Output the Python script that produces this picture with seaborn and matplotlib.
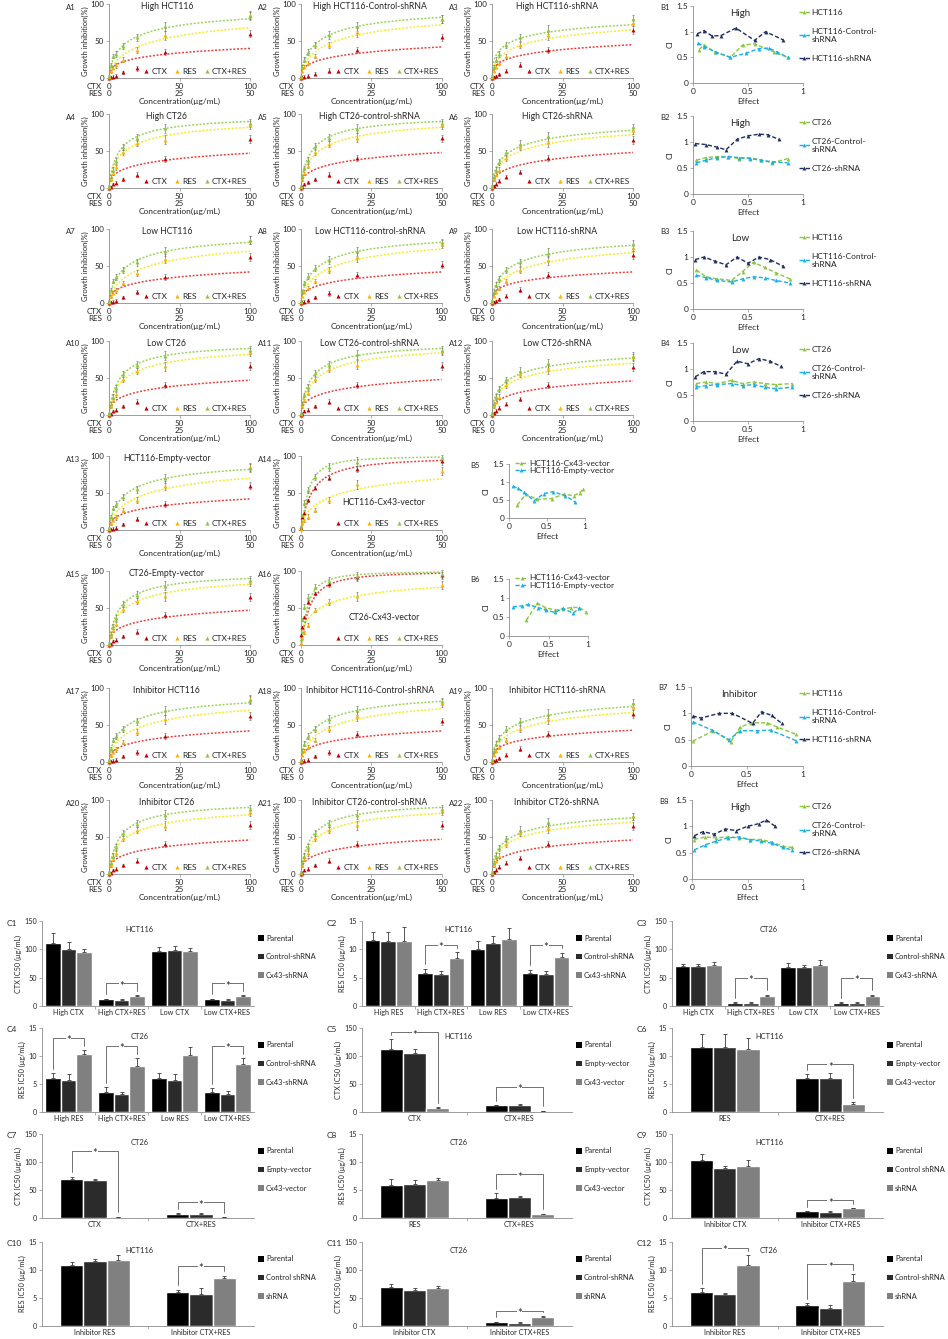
import numpy as np
import pandas as pd
import matplotlib
matplotlib.use("Agg")
import matplotlib.pyplot as plt
import seaborn as sns
from matplotlib.lines import Line2D
from matplotlib.patches import Patch
from matplotlib.ticker import FuncFormatter

# ======================= DATA =======================
# ---- A panels: growth inhibition (%) vs concentration ----
CONC_CTX = [0, 1.25, 2.5, 5, 10, 20, 40, 100]          # CTX ug/mL (RES is half)
A_XTICKS = [0, 50, 100]
A_XTICK_LABELS = ["0\n0", "50\n25", "100\n50"]
A_SERIES = ["CTX", "RES", "CTX+RES"]
ERR_CTX = [0.5, 1, 1.5, 2, 2, 3, 4, 5]
ERR_RES = [1, 2, 2, 3, 3, 4, 6, 5]
ERR_COMB = [1, 2, 3, 4, 4, 5, 6, 5]

A1_title = "High HCT116"
A1_ctx = [0, 1, 2, 3, 8, 13, 35, 60]
A1_res = [2, 9, 14, 17, 25, 38, 58, 85]
A1_comb = [3, 18, 30, 33, 43, 55, 70, 84]
A1_fit = [[0.22, 0.40], [0.31, 0.68], [0.44, 0.80]]   # fitted fa at CTX=10 and CTX=100

A2_title = "High HCT116-Control-shRNA"
A2_ctx = [0, 1, 2, 3, 6, 10, 38, 55]
A2_res = [2, 10, 15, 20, 30, 45, 62, 80]
A2_comb = [3, 15, 25, 35, 45, 58, 70, 80]
A2_fit = [[0.22, 0.42], [0.35, 0.72], [0.45, 0.82]]

A3_title = "High HCT116-shRNA"
A3_ctx = [0, 2, 3, 5, 10, 18, 38, 65]
A3_res = [2, 10, 15, 20, 30, 45, 58, 75]
A3_comb = [3, 15, 25, 32, 45, 55, 65, 80]
A3_fit = [[0.25, 0.45], [0.35, 0.65], [0.45, 0.72]]

A4_title = "High CT26"
A4_ctx = [0, 2, 5, 7, 12, 18, 39, 66]
A4_res = [2, 12, 20, 28, 48, 61, 65, 85]
A4_comb = [3, 15, 25, 36, 55, 68, 81, 88]
A4_fit = [[0.25, 0.47], [0.48, 0.82], [0.56, 0.90]]

A5_title = "High CT26-control-shRNA"
A5_ctx = [0, 2, 5, 8, 12, 18, 40, 67]
A5_res = [2, 12, 20, 30, 48, 60, 68, 85]
A5_comb = [3, 16, 27, 38, 57, 68, 80, 88]
A5_fit = [[0.25, 0.48], [0.45, 0.82], [0.55, 0.90]]

A6_title = "High CT26-shRNA"
A6_ctx = [0, 3, 6, 10, 15, 22, 40, 65]
A6_res = [2, 12, 18, 25, 40, 55, 62, 78]
A6_comb = [3, 15, 25, 35, 48, 60, 70, 82]
A6_fit = [[0.25, 0.48], [0.40, 0.72], [0.45, 0.78]]

A7_title = "Low HCT116"
A7_ctx = [0, 1, 2, 3, 8, 15, 35, 62]
A7_res = [2, 9, 14, 17, 27, 40, 60, 85]
A7_comb = [3, 18, 30, 35, 45, 55, 70, 85]
A7_fit = [[0.22, 0.42], [0.33, 0.70], [0.45, 0.82]]

A8_title = "Low HCT116-control-shRNA"
A8_ctx = [0, 1, 2, 4, 8, 13, 38, 52]
A8_res = [2, 10, 15, 20, 30, 45, 62, 80]
A8_comb = [3, 16, 27, 36, 47, 58, 70, 82]
A8_fit = [[0.22, 0.42], [0.35, 0.73], [0.45, 0.82]]

A9_title = "Low HCT116-shRNA"
A9_ctx = [0, 2, 3, 5, 10, 18, 38, 65]
A9_res = [2, 10, 15, 20, 30, 45, 58, 75]
A9_comb = [3, 15, 25, 32, 45, 55, 68, 80]
A9_fit = [[0.24, 0.42], [0.35, 0.68], [0.44, 0.78]]

A10_title = "Low CT26"
A10_ctx = [0, 2, 5, 7, 12, 18, 40, 66]
A10_res = [2, 12, 20, 28, 48, 60, 66, 85]
A10_comb = [3, 15, 25, 36, 55, 68, 80, 88]
A10_fit = [[0.25, 0.47], [0.47, 0.82], [0.55, 0.90]]

A11_title = "Low CT26-control-shRNA"
A11_ctx = [0, 2, 5, 7, 12, 18, 40, 66]
A11_res = [2, 12, 20, 30, 48, 62, 68, 86]
A11_comb = [3, 16, 27, 38, 57, 68, 82, 88]
A11_fit = [[0.25, 0.48], [0.47, 0.84], [0.55, 0.90]]

A12_title = "Low CT26-shRNA"
A12_ctx = [0, 3, 6, 10, 15, 22, 40, 65]
A12_res = [2, 12, 18, 25, 40, 55, 62, 78]
A12_comb = [3, 15, 25, 35, 48, 60, 70, 80]
A12_fit = [[0.25, 0.46], [0.40, 0.70], [0.45, 0.77]]

A13_title = "HCT116-Empty-vector"
A13_ctx = [0, 1, 2, 3, 8, 15, 35, 60]
A13_res = [2, 9, 14, 17, 27, 40, 60, 85]
A13_comb = [3, 18, 30, 35, 45, 55, 70, 84]
A13_fit = [[0.22, 0.42], [0.33, 0.70], [0.45, 0.82]]

A14_title = "HCT116-Cx43-vector"
A14_ctx = [3, 18, 23, 40, 57, 70, 83, 93]
A14_res = [2, 10, 13, 18, 27, 40, 62, 80]
A14_comb = [5, 20, 37, 54, 72, 85, 92, 97]
A14_fit = [[0.57, 0.94], [0.33, 0.69], [0.72, 0.985]]

A15_title = "CT26-Empty-vector"
A15_ctx = [0, 2, 5, 7, 12, 18, 40, 65]
A15_res = [2, 12, 20, 28, 48, 60, 66, 85]
A15_comb = [3, 15, 25, 36, 55, 68, 80, 88]
A15_fit = [[0.25, 0.47], [0.47, 0.82], [0.55, 0.90]]

A16_title = "CT26-Cx43-vector"
A16_ctx = [14, 24, 38, 58, 70, 82, 92, 94]
A16_res = [3, 10, 17, 27, 47, 58, 66, 81]
A16_comb = [8, 35, 52, 65, 79, 87, 93, 96]
A16_fit = [[0.65, 0.97], [0.45, 0.78], [0.74, 0.985]]

A17_title = "Inhibitor HCT116"
A17_ctx = [0, 1, 2, 3, 8, 13, 35, 62]
A17_res = [2, 9, 14, 17, 27, 40, 58, 85]
A17_comb = [3, 18, 30, 35, 45, 55, 70, 84]
A17_fit = [[0.22, 0.42], [0.35, 0.70], [0.45, 0.80]]

A18_title = "Inhibitor HCT116-Control-shRNA"
A18_ctx = [0, 1, 2, 3, 8, 13, 38, 55]
A18_res = [2, 10, 15, 20, 30, 45, 62, 80]
A18_comb = [3, 15, 25, 35, 45, 58, 70, 82]
A18_fit = [[0.22, 0.42], [0.35, 0.72], [0.45, 0.82]]

A19_title = "Inhibitor HCT116-shRNA"
A19_ctx = [0, 2, 3, 5, 10, 18, 38, 65]
A19_res = [2, 10, 15, 20, 30, 45, 58, 75]
A19_comb = [3, 15, 25, 32, 45, 55, 65, 80]
A19_fit = [[0.24, 0.43], [0.35, 0.67], [0.42, 0.75]]

A20_title = "Inhibitor CT26"
A20_ctx = [0, 2, 5, 7, 12, 18, 40, 66]
A20_res = [2, 12, 20, 28, 48, 60, 65, 84]
A20_comb = [3, 15, 25, 36, 55, 68, 80, 88]
A20_fit = [[0.25, 0.46], [0.46, 0.80], [0.55, 0.90]]

A21_title = "Inhibitor CT26-control-shRNA"
A21_ctx = [0, 2, 5, 7, 12, 18, 40, 66]
A21_res = [2, 12, 20, 28, 48, 60, 66, 85]
A21_comb = [3, 15, 25, 36, 55, 68, 80, 88]
A21_fit = [[0.25, 0.47], [0.47, 0.82], [0.55, 0.90]]

A22_title = "Inhibitor CT26-shRNA"
A22_ctx = [0, 3, 6, 10, 15, 22, 40, 65]
A22_res = [2, 12, 18, 25, 40, 55, 62, 78]
A22_comb = [3, 15, 25, 35, 48, 60, 70, 78]
A22_fit = [[0.25, 0.46], [0.40, 0.70], [0.45, 0.76]]

# ---- B panels: combination index (CI) vs effect ----
B_HCT_LABELS = ["HCT116", "HCT116-Control-\nshRNA", "HCT116-shRNA"]
B_CT_LABELS = ["CT26", "CT26-Control-\nshRNA", "CT26-shRNA"]
B_VEC_LABELS = ["HCT116-Cx43-vector", "HCT116-Empty-vector"]

B1_g_x = [0.055, 0.1, 0.2, 0.34, 0.45, 0.56, 0.74, 0.86]
B1_g_y = [0.65, 0.74, 0.6, 0.5, 0.74, 0.76, 0.6, 0.5]
B1_b_x = [0.045, 0.1, 0.21, 0.34, 0.48, 0.6, 0.69, 0.76, 0.86]
B1_b_y = [0.78, 0.71, 0.6, 0.5, 0.58, 0.67, 0.68, 0.61, 0.5]
B1_n_x = [0.04, 0.1, 0.17, 0.25, 0.39, 0.56, 0.66, 0.82]
B1_n_y = [0.96, 1.02, 0.92, 0.92, 1.07, 0.83, 1.0, 0.84]

B2_g_x = [0.03, 0.12, 0.22, 0.32, 0.42, 0.52, 0.62, 0.72, 0.86]
B2_g_y = [0.65, 0.7, 0.72, 0.72, 0.68, 0.7, 0.65, 0.6, 0.68]
B2_b_x = [0.03, 0.12, 0.22, 0.32, 0.42, 0.52, 0.62, 0.72, 0.86]
B2_b_y = [0.6, 0.65, 0.7, 0.72, 0.7, 0.68, 0.65, 0.62, 0.6]
B2_n_x = [0.02, 0.12, 0.22, 0.3, 0.4, 0.5, 0.6, 0.68, 0.78]
B2_n_y = [0.97, 0.95, 0.9, 0.85, 1.05, 1.12, 1.15, 1.14, 1.05]

B3_g_x = [0.03, 0.12, 0.22, 0.35, 0.45, 0.55, 0.65, 0.75, 0.88]
B3_g_y = [0.75, 0.62, 0.58, 0.55, 0.72, 0.9, 0.8, 0.7, 0.58]
B3_b_x = [0.03, 0.12, 0.22, 0.35, 0.45, 0.55, 0.65, 0.75, 0.88]
B3_b_y = [0.65, 0.6, 0.55, 0.52, 0.58, 0.62, 0.6, 0.55, 0.5]
B3_n_x = [0.02, 0.1, 0.2, 0.3, 0.4, 0.5, 0.6, 0.7, 0.82]
B3_n_y = [0.95, 1.0, 0.92, 0.85, 1.0, 0.88, 1.0, 0.95, 0.82]

B4_g_x = [0.03, 0.12, 0.22, 0.35, 0.45, 0.55, 0.65, 0.75, 0.9]
B4_g_y = [0.72, 0.75, 0.72, 0.78, 0.72, 0.75, 0.72, 0.7, 0.72]
B4_b_x = [0.03, 0.12, 0.22, 0.35, 0.45, 0.55, 0.65, 0.75, 0.9]
B4_b_y = [0.65, 0.68, 0.7, 0.72, 0.68, 0.7, 0.65, 0.62, 0.65]
B4_n_x = [0.02, 0.1, 0.2, 0.3, 0.4, 0.5, 0.6, 0.7, 0.8]
B4_n_y = [0.85, 0.95, 0.95, 0.9, 1.15, 1.1, 1.2, 1.15, 1.05]

B5_g_x = [0.11, 0.22, 0.37, 0.56, 0.72, 0.85, 0.93, 0.98]
B5_g_y = [0.36, 0.66, 0.52, 0.54, 0.66, 0.62, 0.70, 0.80]
B5_b_x = [0.05, 0.12, 0.2, 0.33, 0.46, 0.58, 0.74, 0.87]
B5_b_y = [0.89, 0.82, 0.71, 0.48, 0.68, 0.73, 0.62, 0.45]

B6_g_x = [0.22, 0.36, 0.46, 0.58, 0.68, 0.79, 0.89, 0.97]
B6_g_y = [0.42, 0.86, 0.75, 0.68, 0.71, 0.75, 0.75, 0.64]
B6_b_x = [0.05, 0.16, 0.24, 0.37, 0.47, 0.58, 0.68, 0.81, 0.89]
B6_b_y = [0.77, 0.79, 0.83, 0.75, 0.68, 0.62, 0.73, 0.6, 0.73]

B7_g_x = [0.015, 0.2, 0.355, 0.44, 0.54, 0.68, 0.77, 0.94]
B7_g_y = [0.47, 0.67, 0.46, 0.74, 0.82, 0.82, 0.74, 0.6]
B7_b_x = [0.015, 0.19, 0.34, 0.44, 0.59, 0.71, 0.94]
B7_b_y = [0.84, 0.68, 0.5, 0.67, 0.67, 0.68, 0.48]
B7_n_x = [0.015, 0.09, 0.25, 0.37, 0.55, 0.63, 0.72, 0.81]
B7_n_y = [0.95, 0.91, 1.0, 1.0, 0.81, 1.03, 0.96, 0.81]

B8_g_x = [0.02, 0.12, 0.22, 0.32, 0.42, 0.52, 0.62, 0.72, 0.82, 0.9]
B8_g_y = [0.75, 0.8, 0.78, 0.8, 0.78, 0.75, 0.75, 0.7, 0.62, 0.6]
B8_b_x = [0.02, 0.12, 0.22, 0.32, 0.42, 0.52, 0.62, 0.72, 0.82, 0.9]
B8_b_y = [0.55, 0.65, 0.72, 0.78, 0.8, 0.75, 0.72, 0.68, 0.6, 0.55]
B8_n_x = [0.02, 0.1, 0.2, 0.3, 0.4, 0.5, 0.6, 0.67, 0.75]
B8_n_y = [0.82, 0.9, 0.85, 0.95, 0.92, 1.0, 1.05, 1.12, 1.0]

# ---- C panels: IC50 bars (series x groups) ----
LEG_SH = ["Parental", "Control-shRNA", "Cx43-shRNA"]
LEG_VEC = ["Parental", "Empty-vector", "Cx43-vector"]
LEG_INH_H = ["Parental", "Control shRNA", "shRNA"]
LEG_INH_C = ["Parental", "Control-shRNA", "shRNA"]

C1_groups = ["High CTX", "High CTX+RES", "Low CTX", "Low CTX+RES"]
C1_bars = [[112, 12, 97, 12], [101, 11, 98, 11], [96, 17, 97, 17]]
C1_errs = [[17, 1, 8, 1], [12, 1, 8, 1], [5, 2, 6, 2]]
C1_stars = [[1, 40], [3, 40]]

C2_groups = ["High RES", "High CTX+RES", "Low RES", "Low CTX+RES"]
C2_bars = [[11.6, 5.9, 10.0, 5.9], [11.4, 5.6, 11.1, 5.7], [11.4, 8.5, 11.8, 8.6]]
C2_errs = [[1.5, 0.7, 1.5, 0.5], [1.6, 0.5, 1.3, 0.5], [2.5, 1.0, 2.0, 0.8]]
C2_stars = [[1, 10.8], [3, 10.8]]

C3_groups = ["High CTX", "High CTX+RES", "Low CTX", "Low CTX+RES"]
C3_bars = [[70, 6, 68, 6], [70, 6, 68, 6], [73, 17, 73, 17]]
C3_errs = [[5, 1, 8, 1], [5, 1, 5, 1], [5, 3, 8, 3]]
C3_stars = [[1, 50], [3, 50]]

C4_groups = ["High RES", "High CTX+RES", "Low RES", "Low CTX+RES"]
C4_bars = [[6.0, 3.6, 6.1, 3.6], [5.8, 3.2, 5.7, 3.2], [10.3, 8.2, 10.1, 8.5]]
C4_errs = [[0.9, 0.9, 0.9, 0.7], [0.9, 0.3, 1.0, 0.6], [0.7, 1.4, 1.5, 1.1]]
C4_stars = [[0, 13.3], [1, 11.8], [3, 11.8]]

C5_groups = ["CTX", "CTX+RES"]
C5_bars = [[112, 12], [106, 12], [7, 2]]
C5_errs = [[18, 1], [7, 1.5], [2, 0.5]]
C5_stars = [[0, 142], [1, 45]]

C6_groups = ["RES", "CTX+RES"]
C6_bars = [[11.6, 6.0], [11.6, 6.1], [11.3, 1.4]]
C6_errs = [[2.3, 0.8], [2.3, 0.8], [2.0, 0.3]]
C6_stars = [[1, 8.5]]

C7_groups = ["CTX", "CTX+RES"]
C7_bars = [[69, 7], [67, 7], [2, 1.5]]
C7_errs = [[5, 1.5], [3, 1.5], [0.5, 0.3]]
C7_stars = [[0, 120], [1, 28]]

C8_groups = ["RES", "CTX+RES"]
C8_bars = [[5.9, 3.6], [6.1, 3.8], [6.7, 0.7]]
C8_errs = [[1.0, 0.9], [0.7, 0.2], [0.5, 0.1]]
C8_stars = [[1, 7.8]]

C9_groups = ["Inhibitor CTX", "Inhibitor CTX+RES"]
C9_bars = [[103, 12], [89, 11], [92, 17]]
C9_errs = [[12, 1], [4, 2], [12, 1]]
C9_stars = [[1, 32]]

C10_groups = ["Inhibitor RES", "Inhibitor CTX+RES"]
C10_bars = [[10.9, 6.1], [11.6, 5.8], [11.7, 8.6]]
C10_errs = [[0.6, 0.4], [0.4, 0.9], [1.0, 0.4]]
C10_stars = [[1, 10.8]]

C11_groups = ["Inhibitor CTX", "Inhibitor CTX+RES"]
C11_bars = [[70, 7], [64, 6], [67, 16]]
C11_errs = [[5, 1], [4, 1], [4, 2]]
C11_stars = [[1, 27]]

C12_groups = ["Inhibitor RES", "Inhibitor CTX+RES"]
C12_bars = [[6.1, 3.8], [5.7, 3.2], [10.9, 8.1]]
C12_errs = [[0.7, 0.3], [0.2, 0.6], [1.7, 1.2]]
C12_stars = [[0, 14.0], [1, 11.0]]

# ======================= STYLE =======================
sns.set_theme(style="ticks")
plt.rcParams["font.family"] = ["Lato", "DejaVu Sans"]
plt.rcParams["axes.linewidth"] = 0.6

W, H = 948, 1339
fig = plt.figure(figsize=(W / 100, H / 100), dpi=100)
fig.patch.set_facecolor("white")

GRAY = "#8c8c8c"
C_CTX, C_RES, C_COMB = "#C00000", "#FFB000", "#8CC63F"
F_CTX, F_RES, F_COMB = "#E8413C", "#F5EB2A", "#9BD35A"
B_GREEN, B_BLUE, B_NAVY = "#8CC63F", "#1AAFE6", "#1F2F5F"
BAR_COLORS = ["#000000", "#2b2b2b", "#808080"]


def px_axes(x0, y0, x1, y1):
    return fig.add_axes([x0 / W, 1 - y1 / H, (x1 - x0) / W, (y1 - y0) / H])


def style_spines(ax):
    for s in ["top", "right"]:
        ax.spines[s].set_visible(False)
    for s in ["left", "bottom"]:
        ax.spines[s].set_color(GRAY)
        ax.spines[s].set_linewidth(0.6)


def median_effect_curve(fit):
    (f1, f2) = fit
    L1 = np.log((1 - f1) / f1)
    L2 = np.log((1 - f2) / f2)
    m = (L1 - L2) / np.log(10.0)
    dm = 10.0 * np.exp(L1 / m)
    xs = np.concatenate([np.linspace(0.05, 3, 80), np.linspace(3, 100, 200)])
    return xs, 100.0 / (1.0 + (dm / xs) ** m)


# ======================= A PANELS =======================
A_COLS = [109, 300.7, 492]
A_ROWS = [4, 114, 229, 341, 456, 571, 688, 800]
A_TITLE_X = [0.41, 0.49, 0.46]

A_PANELS = [
    ("A1", A1_title, A1_ctx, A1_res, A1_comb, A1_fit, 0, 0),
    ("A2", A2_title, A2_ctx, A2_res, A2_comb, A2_fit, 0, 1),
    ("A3", A3_title, A3_ctx, A3_res, A3_comb, A3_fit, 0, 2),
    ("A4", A4_title, A4_ctx, A4_res, A4_comb, A4_fit, 1, 0),
    ("A5", A5_title, A5_ctx, A5_res, A5_comb, A5_fit, 1, 1),
    ("A6", A6_title, A6_ctx, A6_res, A6_comb, A6_fit, 1, 2),
    ("A7", A7_title, A7_ctx, A7_res, A7_comb, A7_fit, 2, 0),
    ("A8", A8_title, A8_ctx, A8_res, A8_comb, A8_fit, 2, 1),
    ("A9", A9_title, A9_ctx, A9_res, A9_comb, A9_fit, 2, 2),
    ("A10", A10_title, A10_ctx, A10_res, A10_comb, A10_fit, 3, 0),
    ("A11", A11_title, A11_ctx, A11_res, A11_comb, A11_fit, 3, 1),
    ("A12", A12_title, A12_ctx, A12_res, A12_comb, A12_fit, 3, 2),
    ("A13", A13_title, A13_ctx, A13_res, A13_comb, A13_fit, 4, 0),
    ("A14", A14_title, A14_ctx, A14_res, A14_comb, A14_fit, 4, 1),
    ("A15", A15_title, A15_ctx, A15_res, A15_comb, A15_fit, 5, 0),
    ("A16", A16_title, A16_ctx, A16_res, A16_comb, A16_fit, 5, 1),
    ("A17", A17_title, A17_ctx, A17_res, A17_comb, A17_fit, 6, 0),
    ("A18", A18_title, A18_ctx, A18_res, A18_comb, A18_fit, 6, 1),
    ("A19", A19_title, A19_ctx, A19_res, A19_comb, A19_fit, 6, 2),
    ("A20", A20_title, A20_ctx, A20_res, A20_comb, A20_fit, 7, 0),
    ("A21", A21_title, A21_ctx, A21_res, A21_comb, A21_fit, 7, 1),
    ("A22", A22_title, A22_ctx, A22_res, A22_comb, A22_fit, 7, 2),
]
INNER_TITLE = {"A14", "A16"}

for name, title, ctx, res, comb, fit, r, c in A_PANELS:
    x0, y0 = A_COLS[c], A_ROWS[r]
    ax = px_axes(x0, y0, x0 + 141, y0 + 74)
    for vals, err, col, f, fcol in zip([ctx, res, comb], [ERR_CTX, ERR_RES, ERR_COMB],
                                       [C_CTX, C_RES, C_COMB], fit, [F_CTX, F_RES, F_COMB]):
        xs, ys = median_effect_curve(f)
        sns.lineplot(x=xs, y=ys, color=fcol, linestyle=(0, (1.3, 1.1)), lw=1.1,
                     ax=ax, sort=False, estimator=None)
        ax.errorbar(CONC_CTX, vals, yerr=err, fmt="none", ecolor="#7a7a7a",
                    elinewidth=0.5, capsize=1.0, capthick=0.5, clip_on=False, zorder=2)
        sns.scatterplot(x=CONC_CTX, y=vals, marker="^", color=col, s=8, linewidth=0,
                        ax=ax, clip_on=False, zorder=3)
    ax.set_xlim(0, 100)
    ax.set_ylim(0, 100)
    ax.set_xticks(A_XTICKS)
    ax.set_xticklabels(A_XTICK_LABELS)
    ax.set_yticks([0, 50, 100])
    ax.tick_params(axis="both", length=2, width=0.5, pad=1.5, labelsize=5.8,
                   color=GRAY, direction="out", bottom=True, left=True)
    for lbl in ax.get_xticklabels():
        lbl.set_linespacing(0.95)
    style_spines(ax)
    ax.set_ylabel("Growth inhibition(%)", fontsize=5.5, labelpad=1)
    ax.set_xlabel("Concentration(µg/mL)", fontsize=6, labelpad=1)
    ax.annotate("CTX\nRES", xy=(0, 0), xycoords="axes fraction", xytext=(-5, -3.5),
                textcoords="offset points", ha="right", va="top", fontsize=5.8,
                linespacing=0.95)
    handles = [Line2D([], [], marker="^", ls="none", color=cc, markersize=3, mew=0)
               for cc in (C_CTX, C_RES, C_COMB)]
    ax.legend(handles, A_SERIES, loc="lower right", ncol=3, fontsize=6, frameon=False,
              handlelength=0.6, handletextpad=0.3, columnspacing=0.9,
              borderaxespad=0.15, borderpad=0.2)
    if name in INNER_TITLE:
        ax.text(0.59, 0.37, title, transform=ax.transAxes, ha="center", va="center",
                fontsize=6.2)
    else:
        ax.text(A_TITLE_X[c], 0.965, title, transform=ax.transAxes, ha="center",
                va="center", fontsize=6.2)
    fig.text((x0 - 43) / W, 1 - (y0 + 3) / H, name, fontsize=5.6, ha="left", va="center")

# ======================= B PANELS =======================
B_PANELS = [
    ("B1", "High", [(B1_g_x, B1_g_y), (B1_b_x, B1_b_y), (B1_n_x, B1_n_y)], B_HCT_LABELS, (693, 6, 803, 83)),
    ("B2", "High", [(B2_g_x, B2_g_y), (B2_b_x, B2_b_y), (B2_n_x, B2_n_y)], B_CT_LABELS, (693, 116, 803, 194)),
    ("B3", "Low", [(B3_g_x, B3_g_y), (B3_b_x, B3_b_y), (B3_n_x, B3_n_y)], B_HCT_LABELS, (693, 231, 803, 309)),
    ("B4", "Low", [(B4_g_x, B4_g_y), (B4_b_x, B4_b_y), (B4_n_x, B4_n_y)], B_CT_LABELS, (693, 343, 803, 421)),
    ("B5", None, [(B5_g_x, B5_g_y), (B5_b_x, B5_b_y)], B_VEC_LABELS, (509, 464, 585, 518)),
    ("B6", None, [(B6_g_x, B6_g_y), (B6_b_x, B6_b_y)], B_VEC_LABELS, (509, 579, 588, 636)),
    ("B7", "Inhibitor", [(B7_g_x, B7_g_y), (B7_b_x, B7_b_y), (B7_n_x, B7_n_y)], B_HCT_LABELS, (691, 687, 803, 766)),
    ("B8", "High", [(B8_g_x, B8_g_y), (B8_b_x, B8_b_y), (B8_n_x, B8_n_y)], B_CT_LABELS, (692, 800, 803, 879)),
]
fmt_g = FuncFormatter(lambda v, p: f"{v:g}")
B_DASH = (0, (3.0, 1.6))

for name, title, series, labels, box in B_PANELS:
    x0, y0, x1, y1 = box
    ax = px_axes(x0, y0, x1, y1)
    cols = [B_GREEN, B_BLUE, B_NAVY]
    handles = []
    for (xs, ys), col in zip(series, cols):
        sns.lineplot(x=xs, y=ys, color=col, linestyle=B_DASH, lw=1.0, marker="^",
                     markersize=2.8, mew=0, ax=ax, sort=False, estimator=None)
        handles.append(Line2D([], [], color=col, ls=B_DASH, lw=1.0, marker="^",
                              markersize=2.8, mew=0))
    ax.set_xlim(0, 1)
    ax.set_ylim(0, 1.5)
    ax.set_xticks([0, 0.5, 1])
    ax.set_yticks([0, 0.5, 1, 1.5])
    ax.xaxis.set_major_formatter(fmt_g)
    ax.yaxis.set_major_formatter(fmt_g)
    ax.tick_params(axis="both", length=2, width=0.5, pad=1.5, labelsize=6,
                   color=GRAY, direction="out", bottom=True, left=True)
    style_spines(ax)
    ax.set_xlabel("Effect", fontsize=6, labelpad=2)
    ax.set_ylabel("CI", fontsize=6, labelpad=2)
    if title is None:
        ax.legend(handles, labels, loc="upper left", bbox_to_anchor=(0.08, 1.08),
                  frameon=False, fontsize=6, handlelength=1.5, handletextpad=0.2,
                  labelspacing=0.05, borderaxespad=0, borderpad=0)
        fig.text((x0 - 39) / W, 1 - (y0 + 1) / H, name, fontsize=5.6, ha="left", va="center")
    else:
        ax.text(0.43, 0.9, title, transform=ax.transAxes, ha="center", va="center",
                fontsize=7)
        ax.legend(handles, labels, loc="upper left", bbox_to_anchor=(0.96, 0.96),
                  frameon=False, fontsize=6, handlelength=1.4, handletextpad=0.15,
                  labelspacing=1.4, borderaxespad=0, borderpad=0)
        fig.text((x0 - 33) / W, 1 - (y0 + 1) / H, name, fontsize=5.6, ha="left", va="center")

# ======================= C PANELS =======================
C_ROWS = [(921, 1006), (1028, 1112), (1134, 1218), (1242, 1326)]
C_COLS = [(42, 254), (362, 572), (672, 883)]
C_PANELS = [
    ("C1", "HCT116", C1_groups, C1_bars, C1_errs, C1_stars, LEG_SH, "CTX IC50 (µg/mL)", 150, 0, 0),
    ("C2", "HCT116", C2_groups, C2_bars, C2_errs, C2_stars, LEG_SH, "RES IC50 (µg/mL)", 15, 0, 1),
    ("C3", "CT26", C3_groups, C3_bars, C3_errs, C3_stars, LEG_SH, "CTX IC50 (µg/mL)", 150, 0, 2),
    ("C4", "CT26", C4_groups, C4_bars, C4_errs, C4_stars, LEG_SH, "RES IC50 (µg/mL)", 15, 1, 0),
    ("C5", "HCT116", C5_groups, C5_bars, C5_errs, C5_stars, LEG_VEC, "CTX IC50 (µg/mL)", 150, 1, 1),
    ("C6", "HCT116", C6_groups, C6_bars, C6_errs, C6_stars, LEG_VEC, "RES IC50 (µg/mL)", 15, 1, 2),
    ("C7", "CT26", C7_groups, C7_bars, C7_errs, C7_stars, LEG_VEC, "CTX IC50 (µg/mL)", 150, 2, 0),
    ("C8", "CT26", C8_groups, C8_bars, C8_errs, C8_stars, LEG_VEC, "RES IC50 (µg/mL)", 15, 2, 1),
    ("C9", "HCT116", C9_groups, C9_bars, C9_errs, C9_stars, LEG_INH_H, "CTX IC50 (µg/mL)", 150, 2, 2),
    ("C10", "HCT116", C10_groups, C10_bars, C10_errs, C10_stars, LEG_INH_H, "RES IC50 (µg/mL)", 15, 3, 0),
    ("C11", "CT26", C11_groups, C11_bars, C11_errs, C11_stars, LEG_INH_C, "CTX IC50 (µg/mL)", 150, 3, 1),
    ("C12", "CT26", C12_groups, C12_bars, C12_errs, C12_stars, LEG_INH_C, "RES IC50 (µg/mL)", 15, 3, 2),
]

for name, title, groups, bars, errs, stars, leg, ylabel, ymax, r, c in C_PANELS:
    (y0, y1), (x0, x1) = C_ROWS[r], C_COLS[c]
    ax = px_axes(x0, y0, x1, y1)
    rows = []
    for lab, vals in zip(leg, bars):
        for g, v in zip(groups, vals):
            rows.append((g, lab, v))
    df = pd.DataFrame(rows, columns=["group", "series", "value"])
    width = 0.9 if len(groups) == 4 else 0.66
    sns.barplot(data=df, x="group", y="value", hue="series", order=groups, hue_order=leg,
                palette=BAR_COLORS, saturation=1, width=width, gap=0, errorbar=None,
                legend=False, ax=ax)
    centers = []
    for cont, err in zip(ax.containers, errs):
        xs = [p.get_x() + p.get_width() / 2 for p in cont.patches]
        hs = [p.get_height() for p in cont.patches]
        ax.errorbar(xs, hs, yerr=[np.zeros(len(err)), err], fmt="none", ecolor="#3a3a3a",
                    elinewidth=0.6, capsize=1.2, capthick=0.6, zorder=3)
        centers.append(xs)
    gap = 0.05 * ymax
    for g, h in stars:
        xa, xb = centers[0][g], centers[2][g]
        ya = bars[0][g] + errs[0][g] + gap
        yb = bars[2][g] + errs[2][g] + gap
        ax.plot([xa, xa, xb, xb], [min(ya, h), h, h, min(yb, h)], color="#5a5a5a",
                lw=0.6, zorder=4)
        ax.text((xa + xb) / 2, h - 0.035 * ymax, "*", ha="center", va="center",
                fontsize=8, zorder=5,
                bbox=dict(fc="white", ec="none", pad=0.4))
    n = len(groups)
    ax.set_xlim(-0.5, n - 0.5)
    ax.set_ylim(0, ymax)
    ax.set_yticks(np.linspace(0, ymax, 4))
    ax.yaxis.set_major_formatter(fmt_g)
    ax.set_xticks(range(n))
    ax.set_xticklabels(groups)
    ax.set_xticks(np.arange(0.5, n - 0.5, 1.0), minor=True)
    ax.tick_params(axis="x", which="major", length=0, pad=2, labelsize=5.2)
    ax.tick_params(axis="x", which="minor", length=2.5, width=0.5, color=GRAY,
                   direction="out", bottom=True)
    ax.tick_params(axis="y", length=2, width=0.5, pad=1.5, labelsize=5.2, color=GRAY,
                   direction="out", left=True)
    style_spines(ax)
    ax.set_xlabel("")
    ax.set_ylabel(ylabel, fontsize=5.2, labelpad=2)
    ax.text(0.46, 0.9, title, transform=ax.transAxes, ha="center", va="center",
            fontsize=5.4)
    phandles = [Patch(facecolor=cc, edgecolor="none") for cc in BAR_COLORS]
    ax.legend(phandles, leg, loc="upper left", bbox_to_anchor=(1.02, 0.84),
              frameon=False, fontsize=5.4, handlelength=0.75, handleheight=0.75,
              handletextpad=0.3, labelspacing=1.55, borderaxespad=0, borderpad=0)
    fig.text((x0 - 35) / W, 1 - (y0 + 2) / H, name, fontsize=6, ha="left", va="center")

fig.savefig("out.png", dpi=100, facecolor="white")
